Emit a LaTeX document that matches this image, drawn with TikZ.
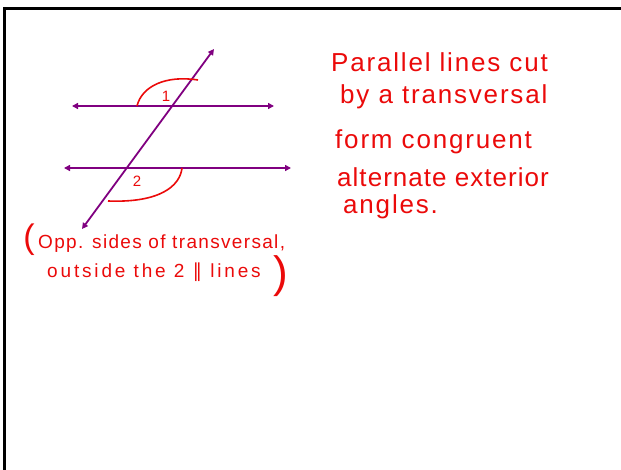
\documentclass[tikz,border=0pt]{standalone}
\usepackage{fontspec}
\setmainfont{Liberation Sans}
\newfontfamily\symfont{DejaVu Sans}
\newfontfamily\handA[LetterSpace=7]{Liberation Sans}
\newfontfamily\handB[LetterSpace=4]{Liberation Sans}
\newfontfamily\handC[LetterSpace=15]{Liberation Sans}
\usetikzlibrary{arrows.meta}
\definecolor{ink}{RGB}{235,10,10}
\definecolor{lineclr}{RGB}{128,0,128}
\begin{document}
\begin{tikzpicture}[x=1pt,y=-1pt,
  frame/.style={line width=3pt,black},
  pline/.style={line width=1.8pt,lineclr,{Triangle[length=6pt,width=6pt]}-{Triangle[length=6pt,width=6pt]}},
  arcline/.style={line width=1.6pt,ink},
  hand/.style={text=ink,inner sep=0pt,anchor=west,font=\handA\fontsize{26}{26}\selectfont},
  handb/.style={text=ink,inner sep=0pt,anchor=west,font=\handB\fontsize{26}{26}\selectfont},
  small/.style={text=ink,inner sep=0pt,anchor=west,font=\handA\fontsize{19}{19}\selectfont},
  smallb/.style={text=ink,inner sep=0pt,anchor=west,font=\handC\fontsize{19}{19}\selectfont},
  lbl/.style={text=ink,inner sep=0pt,font=\fontsize{15}{15}\selectfont}]
\useasboundingbox (0,0) rectangle (621,470);
\fill[white] (0,0) rectangle (621,470);
% frame
\coordinate (tl) at (4,9);
\coordinate (tr) at (621,9);
\coordinate (bl) at (4,470);
\draw[frame] (tr) -- (tl) -- (bl);
% parallel lines
\coordinate (a1) at (72,106);
\coordinate (a2) at (274,106);
\coordinate (b1) at (64,168);
\coordinate (b2) at (291,168);
\coordinate (t1) at (82,229);
\coordinate (t2) at (214,49);
\draw[pline] (a1) -- (a2);
\draw[pline] (b1) -- (b2);
\draw[pline] (t1) -- (t2);
% angle arcs
\coordinate (p1) at (137,106);
\coordinate (q1) at (198,80);
\coordinate (p2) at (182,168);
\coordinate (q2) at (108,201);
\draw[arcline] (p1) .. controls (142,86) and (166,75) .. (q1);
\draw[arcline] (p2) .. controls (180,186) and (160,203) .. (q2);
\node[lbl] (n1) at (166,96) {1};
\node[lbl] (n2) at (137,181) {2};
% right text
\node[hand] (r1) at (331,62) {Parallel lines cut};
\node[hand] (r2) at (340,97) {by a transversal};
\node[hand] (r3) at (335,142) {form congruent};
\node[handb] (r4) at (337,177) {alternate exterior};
\node[hand] (r5) at (343,207) {angles.};
% bottom text
\node[text=ink,inner sep=0pt,font=\fontsize{34}{34}\selectfont] (lp) at (29,240) {(};
\node[small] (s1) at (38,244) {Opp. sides of transversal,};
\node[smallb] (s2) at (47,272) {outside the 2 {\symfont ∥} lines};
\node[text=ink,inner sep=0pt,font=\fontsize{44}{44}\selectfont] (rp) at (281,276) {)};
\end{tikzpicture}
\end{document}
